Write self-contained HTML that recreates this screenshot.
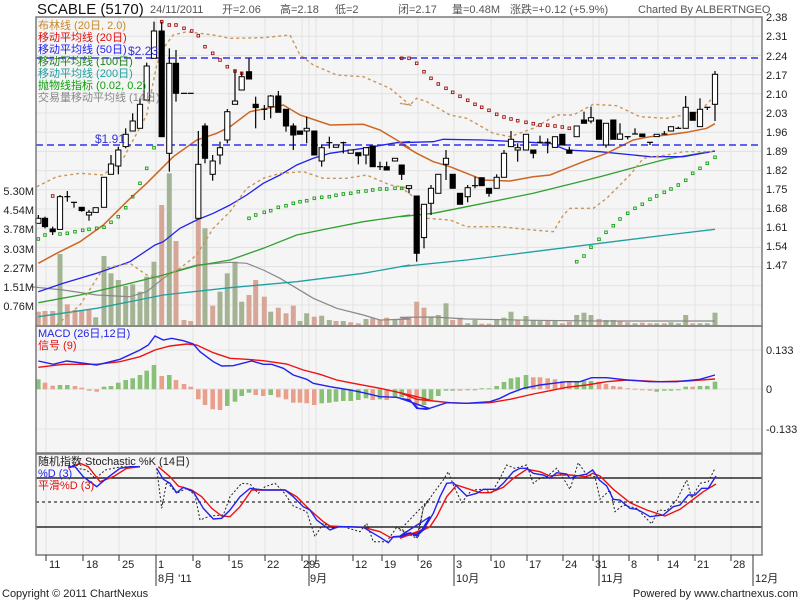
<!DOCTYPE html>
<html><head><meta charset="utf-8">
<style>
body{margin:0;background:#fff;}
svg{display:block;font-family:"Liberation Sans","Noto Sans CJK SC",sans-serif;}
</style></head><body>
<svg id="s" width="800" height="600" xmlns="http://www.w3.org/2000/svg">
<rect width="800" height="600" fill="#fff"/>
<rect x="36" y="17" width="726" height="309" fill="#f5f5f5"/>
<rect x="36" y="326" width="726" height="127" fill="#f5f5f5"/>
<rect x="36" y="454" width="726" height="101" fill="#f5f5f5"/>
<g id="grid" stroke="#e2e2e2" stroke-width="1"></g>
<g id="data"></g>
<g fill="none" stroke="#000" stroke-width="1.3">
<line x1="36" y1="478" x2="762" y2="478"/>
<line x1="36" y1="527" x2="762" y2="527"/>
<line x1="36" y1="502" x2="762" y2="502" stroke-dasharray="3,3" stroke-width="1"/>
</g>
<g id="stoch"></g>
<g fill="none" stroke="#7a7a7a" stroke-width="1.5">
<rect x="36" y="17" width="726" height="309"/>
<rect x="36" y="326" width="726" height="127"/>
<rect x="36" y="454" width="726" height="101"/>
</g>
<g font-size="15" fill="#111"><text x="37" y="14">SCABLE (5170)</text></g>
<g font-size="11" fill="#555">
<text x="150" y="13">24/11/2011</text>
<text x="222" y="13">开=2.06</text>
<text x="280" y="13">高=2.18</text>
<text x="335" y="13">低=2</text>
<text x="398" y="13">闭=2.17</text>
<text x="452" y="13">量=0.48M</text>
<text x="510" y="13">涨跌=+0.12 (+5.9%)</text>
<text x="638" y="13">Charted By ALBERTNGEO</text>
</g>
<g font-size="11">
<text x="38" y="29" fill="#c8872a">布林线 (20日, 2.0)</text>
<text x="38" y="41" fill="#e01010">移动平均线 (20日)</text>
<text x="38" y="53" fill="#2222ee">移动平均线 (50日)</text>
<text x="38" y="65" fill="#208020">移动平均线 (100日)</text>
<text x="38" y="77" fill="#20a0a0">移动平均线 (200日)</text>
<text x="38" y="89" fill="#10a010">抛物线指标 (0.02, 0.2)</text>
<text x="38" y="101" fill="#888">交易量移动平均线 (14日)</text>
<text x="128" y="55" fill="#3333dd" font-size="12">$2.23</text>
<text x="95" y="143" fill="#3333dd" font-size="12">$1.91</text>
<text x="38" y="337" fill="#2222ee">MACD (26日,12日)</text>
<text x="38" y="349" fill="#e01010">信号 (9)</text>
<text x="38" y="465" fill="#222">随机指数 Stochastic %K (14日)</text>
<text x="38" y="477" fill="#2222ee">%D (3)</text>
<text x="38" y="489" fill="#e01010">平滑%D (3)</text>
</g>
<g font-size="11" fill="#222">
<text x="766" y="21">2.38</text><text x="766" y="40">2.31</text><text x="766" y="60">2.24</text>
<text x="766" y="79">2.17</text><text x="766" y="98">2.10</text><text x="766" y="117">2.03</text>
<text x="766" y="136">1.96</text><text x="766" y="155">1.89</text><text x="766" y="174">1.82</text>
<text x="766" y="193">1.75</text><text x="766" y="212">1.68</text><text x="766" y="231">1.61</text>
<text x="766" y="250">1.54</text><text x="766" y="269">1.47</text>
<text x="766" y="354">0.133</text><text x="766" y="393">0</text><text x="766" y="433">-0.133</text>
</g>
<g font-size="11" fill="#222" text-anchor="end">
<text x="34" y="195">5.30M</text><text x="34" y="214">4.54M</text><text x="34" y="233">3.78M</text>
<text x="34" y="253">3.03M</text><text x="34" y="272">2.27M</text><text x="34" y="291">1.51M</text>
<text x="34" y="310">0.76M</text>
</g>
<g id="ticks" stroke="#333" stroke-width="1"></g>
<g font-size="11" fill="#222">
<text x="49" y="568">11</text><text x="86" y="568">18</text><text x="122" y="568">25</text>
<text x="158" y="568">1</text><text x="195" y="568">8</text><text x="231" y="568">15</text>
<text x="267" y="568">22</text><text x="303" y="568">29</text><text x="314" y="568">5</text>
<text x="355" y="568">12</text><text x="384" y="568">19</text><text x="420" y="568">26</text>
<text x="456" y="568">3</text><text x="493" y="568">10</text><text x="529" y="568">17</text>
<text x="565" y="568">24</text><text x="595" y="568">31</text><text x="631" y="568">8</text>
<text x="667" y="568">14</text><text x="697" y="568">21</text><text x="733" y="568">28</text>
<text x="158" y="582">8月 '11</text><text x="310" y="582">9月</text><text x="456" y="582">10月</text>
<text x="601" y="582">11月</text><text x="755" y="582">12月</text>
<text x="2" y="597">Copyright © 2011 ChartNexus</text>
<text x="798" y="597" text-anchor="end">Powered by www.chartnexus.com</text>
</g>
<script>
(function(){
var NS="http://www.w3.org/2000/svg";
function el(g,t,a){var e=document.createElementNS(NS,t);for(var k in a)e.setAttribute(k,a[k]);g.appendChild(e);return e;}
var grid=document.getElementById('grid'),D=document.getElementById('data'),S=document.getElementById('stoch'),T=document.getElementById('ticks');
var vx=[46,83,119,156,193,229,265,302,309,316,353,382,418,454,491,527,563,593,599,629,658,695,731,753];
vx.forEach(function(x){el(grid,'line',{x1:x,y1:17,x2:x,y2:555});el(T,'line',{x1:x,y1:555,x2:x,y2:561});});
[156,309,454,599,753].forEach(function(x){el(T,'line',{x1:x,y1:555,x2:x,y2:586});});
for(var i=0;i<16;i++){var y=17+i*19.2;el(grid,'line',{x1:36,y1:y,x2:762,y2:y});}
[350,389,429].forEach(function(y){el(grid,'line',{x1:36,y1:y,x2:762,y2:y});});
function P(pts,ox,oy){return pts.map(function(p){return (ox+p[0]/3).toFixed(1)+','+(oy+p[1]/3).toFixed(1)}).join(' ');}
function line(g,a,b,oy,col,w,dash){var s=P(a,30,oy)+' '+P(b,400,oy);var o={points:s,fill:'none',stroke:col,'stroke-width':w||1.2};if(dash)o['stroke-dasharray']=dash;el(g,'polyline',o);}
// volume
var V3=[[25,890,'p'],[45,888,'p'],[68,888,'p'],[90,717,'g'],[112,868,'p'],[135,885,'p'],[155,885,'p'],[177,885,'p'],[197,907,'g'],[222,723,'g'],[243,775,'g'],[265,795,'g'],[287,813,'g'],[308,808,'g'],[330,830,'g'],[350,785,'g'],[372,740,'g'],[395,570,'p'],[418,475,'g'],[438,678,'p'],[462,915,'p'],[482,918,'p'],[505,612,'p'],[525,640,'g'],[548,872,'p'],[570,830,'g'],[592,775,'g'],[615,740,'g'],[635,860,'g'],[657,840,'p'],[677,795,'p'],[703,845,'p'],[722,890,'g'],[745,878,'p'],[768,895,'p'],[790,872,'p'],[810,918,'g'],[830,895,'g'],[853,905,'p'],[875,902,'g'],[898,915,'g'],[918,918,'p'],[940,918,'g'],[962,922,'p'],[985,925,'p'],[1008,912,'g'],[1028,910,'p'],[1050,915,'p'],[1070,908,'p'],[1095,915,'g'],[1115,910,'p']];
var V4=[[27,905,'p'],[50,860,'p'],[72,878,'p'],[93,905,'g'],[115,900,'g'],[138,865,'g'],[158,915,'p'],[180,908,'p'],[203,925,'g'],[225,915,'g'],[245,926,'p'],[267,926,'p'],[290,913,'g'],[312,908,'g'],[333,890,'g'],[353,915,'p'],[378,903,'g'],[400,915,'g'],[420,918,'g'],[443,915,'p'],[465,918,'g'],[487,925,'p'],[508,920,'p'],[530,900,'g'],[552,893,'g'],[573,900,'g'],[597,912,'p'],[618,915,'g'],[640,915,'g'],[660,918,'p'],[683,922,'p'],[705,925,'g'],[727,923,'p'],[750,925,'p'],[770,925,'g'],[793,925,'p'],[813,922,'g'],[835,925,'g'],[857,900,'g'],[878,925,'p'],[900,925,'g'],[922,925,'g'],[945,893,'g']];
function vol(a,ox){a.forEach(function(v){var x=ox+v[0]/3,y=15+v[1]/3;el(D,'rect',{x:(x-2.5).toFixed(1),y:y.toFixed(1),width:5,height:(325-y).toFixed(1),fill:v[2]=='g'?'#a3b394':'#d6a696'});});}
vol(V3,30);vol(V4,400);
// vol MA
line(D,[[0,815],[100,825],[200,840],[300,845],[350,830],[400,790],[430,770],[500,750],[600,742],[650,745],[700,765],[750,790],[800,820],[850,850],[920,880],[1000,900],[1050,915],[1140,912]],[[0,907],[100,906],[200,912],[400,916],[600,918],[800,918],[945,918]],15,'#888',1.2);
// lines
line(D,[[25,905],[200,880],[400,840],[600,818],[800,800],[1000,775],[1140,750]],[[0,755],[200,735],[400,710],[600,685],[800,660],[945,643]],15,'#20a0a0',1.3);
line(D,[[25,863],[150,840],[280,810],[400,780],[500,752],[600,735],[700,700],[800,660],[900,640],[1000,620],[1140,600]],[[0,605],[100,595],[200,575],[300,555],[400,535],[500,510],[600,485],[700,458],[800,432],[900,415],[945,408]],15,'#30a030',1.3);
line(D,[[25,830],[100,805],[200,775],[300,740],[375,690],[400,680],[450,640],[500,615],[550,595],[600,570],[650,540],[700,505],[750,480],[800,450],[850,430],[900,415],[1000,400],[1100,383],[1140,380]],[[0,383],[100,380],[130,373],[250,375],[350,380],[450,385],[500,405],[600,410],[700,420],[750,425],[850,425],[945,408]],15,'#2222ee',1.3);
line(D,[[25,745],[80,715],[150,680],[220,630],[290,560],[350,505],[410,445],[430,425],[500,375],[560,355],[600,335],[660,290],[760,270],[810,300],[900,330],[1000,328],[1050,345],[1100,375],[1140,400]],[[0,385],[50,415],[100,440],[150,455],[200,475],[250,495],[330,498],[400,485],[450,480],[500,460],[550,440],[620,415],[700,375],[750,365],[800,360],[860,352],[920,340],[945,326]],15,'#cc6622',1.5);
line(D,[[20,515],[80,485],[150,475],[220,480],[280,430],[350,300],[380,150],[400,100],[430,60],[470,50],[550,60],[600,70],[700,68],[780,60],[810,120],[850,150],[920,180],[1000,185],[1080,220],[1140,270]],[[0,265],[30,270],[50,250],[80,260],[150,300],[200,310],[280,355],[330,365],[400,340],[470,300],[520,300],[580,268],[650,272],[720,305],[800,310],[850,300],[900,290],[945,240]],15,'#c8965a',1.4,'3,3');
line(D,[[80,930],[150,870],[220,760],[300,745],[350,780],[400,790],[450,760],[500,720],[550,640],[600,590],[650,520],[700,490],[750,475],[820,470],[880,490],[950,490],[1010,480],[1080,510],[1140,520]],[[0,515],[40,545],[80,610],[150,615],[200,635],[300,635],[400,645],[460,650],[490,600],[510,580],[580,580],[620,550],[690,480],[730,430],[800,420],[850,410],[945,410]],15,'#c8965a',1.4,'3,3');
// dashed blue
el(D,'line',{x1:36,y1:58,x2:762,y2:58,stroke:'#3333ee','stroke-width':1.5,'stroke-dasharray':'7,4'});
el(D,'line',{x1:36,y1:145,x2:762,y2:145,stroke:'#3333ee','stroke-width':1.5,'stroke-dasharray':'7,4'});
// SAR
function dots(a,ox,col){a.forEach(function(d){el(D,'rect',{x:(ox+d[0]/3-1.3).toFixed(1),y:(15+d[1]/3-1.3).toFixed(1),width:2.6,height:2.6,fill:'none',stroke:col,'stroke-width':0.9});});}
dots([[25,672],[45,660],[90,657],[112,655],[135,650],[158,646],[177,643],[200,640],[222,637],[243,622],[265,605],[287,578],[308,545],[330,505],[350,460],[372,398],[657,610],[677,600],[703,592],[722,587],[745,577],[768,572],[790,565],[810,560],[830,557],[853,550],[875,547],[898,545],[918,541],[940,537],[962,535],[985,530],[1008,528],[1028,525],[1050,522],[1070,522],[1095,520],[1115,520],[1135,517]],30,'#10a010');
dots([[68,543],[395,20],[418,30],[438,30],[462,40],[485,48],[505,62],[525,95],[548,115],[570,135],[592,155],[615,168],[635,175]],30,'#a01010');
dots([[5,130],[27,130],[50,145],[72,170],[93,190],[115,207],[138,220],[158,232],[180,244],[203,256],[225,268],[245,277],[267,286],[290,298],[312,306],[333,312],[353,317],[378,322],[400,326],[420,330],[443,331],[465,333],[487,336],[508,340]],400,'#a01010');
dots([[530,740],[552,723],[573,697],[597,673],[618,652],[640,632],[660,612],[683,595],[705,580],[727,568],[750,553],[770,543],[793,532],[813,522],[835,510],[857,496],[878,475],[900,460],[922,445],[945,427]],400,'#10a010');
// candles
var C3=[[25,610,625,600,625,'w'],[45,610,635,605,640,'b'],[68,642,650,635,660,'b'],[90,545,643,540,643,'w'],[112,545,545,528,560,'d'],[132,562,562,562,578,'d'],[155,577,587,577,590,'b'],[177,592,600,585,617,'w'],[197,578,592,578,592,'w'],[222,487,577,487,577,'w'],[243,447,478,420,478,'w'],[265,405,453,395,478,'w'],[287,358,395,340,400,'w'],[308,318,348,295,348,'w'],[330,268,340,250,340,'w'],[350,153,255,143,255,'w'],[372,48,130,20,130,'w'],[395,48,365,20,365,'b'],[418,145,415,100,470,'w'],[438,145,235,105,260,'b'],[462,235,235,235,235,'d'],[482,235,235,235,235,'d'],[505,448,610,348,610,'w'],[525,333,430,325,445,'b'],[548,438,478,420,497,'w'],[570,398,420,380,448,'w'],[592,290,375,282,385,'w'],[615,258,268,165,268,'w'],[635,185,225,172,225,'w'],[657,170,192,130,192,'b'],[677,268,278,245,340,'b'],[703,283,283,270,315,'d'],[722,243,275,240,310,'w'],[745,243,292,228,292,'b'],[768,283,333,283,350,'b'],[790,333,360,325,405,'b'],[810,348,358,348,358,'b'],[830,340,348,305,385,'w'],[853,348,420,348,420,'b'],[875,398,438,388,455,'w'],[898,383,383,365,400,'d'],[918,390,397,390,397,'w'],[940,383,383,380,415,'d'],[962,405,415,405,415,'w'],[985,413,422,413,448,'b'],[1008,398,420,398,448,'w'],[1028,393,455,393,455,'b'],[1050,455,455,440,465,'d'],[1070,455,465,440,465,'b'],[1095,430,438,430,438,'w'],[1115,450,478,450,495,'b']];
var C4=[[27,512,520,512,535,'w'],[50,543,715,543,740,'b'],[72,568,668,568,700,'w'],[93,520,565,510,600,'w'],[115,478,535,478,535,'w'],[138,430,448,405,495,'w'],[158,478,520,478,520,'b'],[180,535,568,535,568,'b'],[203,518,545,510,562,'w'],[225,512,512,485,520,'d'],[245,488,512,488,512,'b'],[267,520,535,520,545,'b'],[290,487,520,478,520,'w'],[312,415,487,405,487,'w'],[333,373,395,348,395,'w'],[353,398,405,385,440,'w'],[378,358,405,358,405,'w'],[400,405,415,405,430,'b'],[420,382,382,362,382,'d'],[443,382,382,370,415,'d'],[465,365,397,365,397,'w'],[487,358,390,358,390,'b'],[508,405,415,395,415,'b'],[530,333,365,333,365,'w'],[552,315,325,290,325,'b'],[573,308,318,275,325,'w'],[597,315,373,315,373,'b'],[618,325,390,325,398,'w'],[640,315,373,315,373,'b'],[660,357,373,325,373,'w'],[683,365,365,365,373,'d'],[705,357,357,340,357,'d'],[727,357,365,357,365,'b'],[750,382,382,382,390,'d'],[770,358,365,358,365,'w'],[793,357,357,348,357,'d'],[813,335,348,335,348,'w'],[835,340,340,335,340,'d'],[857,277,340,243,340,'w'],[878,292,316,292,316,'b'],[900,283,335,250,335,'w'],[922,277,277,277,285,'d'],[945,178,268,168,318,'w']];
function candles(a,ox){a.forEach(function(c){var x=ox+c[0]/3,t=15+c[1]/3,b=15+c[2]/3,h=15+c[3]/3,l=15+c[4]/3;
el(D,'line',{x1:x,y1:h,x2:x,y2:l,stroke:'#000','stroke-width':1.2});
if(c[5]=='d'){el(D,'line',{x1:x-3,y1:t,x2:x+3,y2:t,stroke:'#000','stroke-width':1.2});}
else el(D,'rect',{x:(x-2.6).toFixed(1),y:t.toFixed(1),width:5.2,height:Math.max(1,b-t).toFixed(1),fill:c[5]=='w'?'#fff':'#000',stroke:'#000','stroke-width':1});});}
candles(C3,30);candles(C4,400);
// MACD hist
var H3=[[25,178,'g'],[45,188,'p'],[68,197,'p'],[90,195,'g'],[112,195,'g'],[135,198,'p'],[155,203,'p'],[178,212,'p'],[200,215,'p'],[222,200,'g'],[243,198,'g'],[265,188,'g'],[287,180,'g'],[308,175,'g'],[330,165,'g'],[350,152,'g'],[372,135,'g'],[395,168,'p'],[418,165,'g'],[438,180,'p'],[462,192,'p'],[482,200,'p'],[505,238,'p'],[525,255,'p'],[548,268,'p'],[570,270,'p'],[592,258,'g'],[615,245,'g'],[635,228,'g'],[657,218,'g'],[677,225,'p'],[700,228,'p'],[722,225,'g'],[745,232,'p'],[768,238,'p'],[790,248,'p'],[810,248,'p'],[830,250,'p'],[853,255,'p'],[875,250,'g'],[898,248,'g'],[918,245,'g'],[940,243,'g'],[962,243,'g'],[985,240,'g'],[1008,235,'g'],[1028,240,'p'],[1050,238,'g'],[1070,240,'p'],[1095,232,'g'],[1115,232,'g'],[1138,238,'p']];
var H4=[[50,258,'p'],[72,255,'g'],[93,242,'g'],[115,228,'g'],[138,212,'g'],[158,212,'g'],[180,212,'p'],[203,210,'g'],[225,209,'g'],[245,205,'g'],[267,205,'g'],[290,198,'g'],[312,186,'g'],[333,175,'g'],[353,172,'g'],[378,165,'g'],[400,172,'p'],[420,172,'p'],[443,175,'p'],[465,178,'p'],[487,183,'p'],[508,185,'p'],[530,185,'g'],[552,183,'g'],[573,183,'g'],[597,185,'p'],[618,192,'p'],[640,198,'p'],[660,200,'p'],[683,205,'p'],[705,206,'p'],[727,210,'p'],[750,212,'p'],[770,215,'g'],[793,212,'g'],[813,212,'g'],[835,210,'g'],[857,200,'g'],[878,200,'p'],[900,198,'g'],[922,198,'g'],[945,185,'g']];
function hist(a,ox){a.forEach(function(h){var x=ox+h[0]/3,y=320+h[1]/3,z=389.3;var t=Math.min(y,z),hh=Math.max(1,Math.abs(y-z));el(D,'rect',{x:(x-2.3).toFixed(1),y:t.toFixed(1),width:4.6,height:hh.toFixed(1),fill:h[2]=='g'?'#88c078':'#e8a08c'});});}
hist(H3,30);hist(H4,400);
line(D,[[25,142],[100,133],[200,133],[270,125],[330,110],[375,90],[420,78],[470,72],[500,75],[550,98],[600,115],[650,118],[700,122],[770,132],[820,150],[870,163],[920,180],[970,190],[1050,205],[1140,225],[1200,240]],[[0,218],[50,238],[100,243],[150,248],[200,250],[270,248],[330,238],[400,222],[450,212],[500,202],[560,195],[620,185],[680,180],[780,185],[860,183],[945,177]],320,'#ee1111',1.4);
line(D,[[25,123],[70,133],[110,123],[200,135],[270,118],[330,90],[355,75],[375,48],[400,60],[425,55],[460,62],[490,72],[510,95],[550,125],[575,138],[610,137],[665,123],[700,133],[725,133],[760,145],[790,165],[830,178],[850,190],[900,200],[960,210],[1000,218],[1050,230],[1100,232],[1140,243],[1165,265],[1200,266]],[[0,235],[30,240],[50,265],[80,268],[140,248],[200,250],[270,245],[300,235],[330,220],[370,205],[420,195],[460,190],[500,185],[540,185],[575,173],[620,173],[680,180],[750,185],[830,185],[900,178],[945,165]],320,'#2222ee',1.4);
// stochastic
line(S,[[115,45],[140,55],[170,60],[195,85],[215,70],[225,60],[250,55],[275,50],[330,50]],[],450,'#222',1,'2,2');
line(S,[[380,55],[395,175],[410,95],[440,130],[470,115],[495,135],[510,210],[540,198],[580,195],[600,140],[635,100],[660,102],[685,130],[705,110],[735,100],[760,125],[790,168],[830,185],[855,260],[880,220],[905,235],[940,230],[990,245],[1010,220],[1030,275],[1070,275],[1100,232],[1140,250],[1165,265],[1180,170],[1200,145]],[[0,240],[50,265],[70,175],[100,130],[130,90],[145,65],[160,105],[185,158],[215,120],[250,118],[275,128],[300,85],[320,45],[345,55],[380,45],[400,100],[420,85],[440,80],[470,55],[490,85],[510,118],[535,38],[560,75],[585,80],[600,148],[630,120],[645,185],[670,165],[710,175],[755,222],[775,180],[800,182],[830,150],[860,90],[875,145],[900,100],[925,95],[945,55]],450,'#222',1,'2,2');
line(S,[[115,55],[150,40],[175,50],[210,95],[250,80],[290,55],[330,50]],[],450,'#ee1111',1.4);
line(S,[[385,50],[420,80],[445,108],[485,120],[515,140],[545,175],[575,198],[600,200],[630,170],[665,120],[700,120],[765,120],[800,140],[840,180],[880,215],[900,228],[940,230],[1000,232],[1050,245],[1080,262],[1120,260],[1140,255],[1170,245],[1200,230]],[[0,265],[30,252],[50,250],[90,230],[110,200],[140,140],[170,105],[200,115],[240,128],[270,128],[310,112],[340,85],[380,58],[420,65],[450,78],[480,75],[510,75],[560,80],[578,70],[600,78],[640,118],[690,158],[740,180],[795,198],[840,178],[880,148],[910,125],[948,102]],450,'#ee1111',1.4);
line(S,[[115,50],[135,50],[160,80],[200,110],[230,85],[270,55],[300,50],[330,50]],[],450,'#2222ee',1.4);
line(S,[[380,55],[400,88],[420,100],[440,128],[460,112],[490,125],[520,175],[550,207],[575,205],[600,180],[630,140],[660,115],[700,120],[765,120],[790,140],[820,170],[840,180],[860,210],[880,225],[900,240],[925,230],[960,230],[1000,232],[1030,250],[1050,262],[1075,278],[1090,260],[1120,258],[1140,248],[1160,255],[1175,240],[1200,200]],[[0,258],[30,248],[50,258],[70,240],[100,190],[120,140],[140,100],[160,98],[200,138],[230,130],[250,118],[290,118],[310,100],[340,65],[360,55],[380,55],[400,70],[430,75],[450,85],[470,68],[500,72],[510,85],[530,78],[560,72],[578,60],[598,90],[620,108],[640,148],[660,150],[690,175],[710,178],[730,188],[750,200],[790,195],[820,170],[840,165],[865,135],[885,135],[905,115],[925,115],[948,78]],450,'#2222ee',1.4);
})();
</script>
</svg>
</body></html>
